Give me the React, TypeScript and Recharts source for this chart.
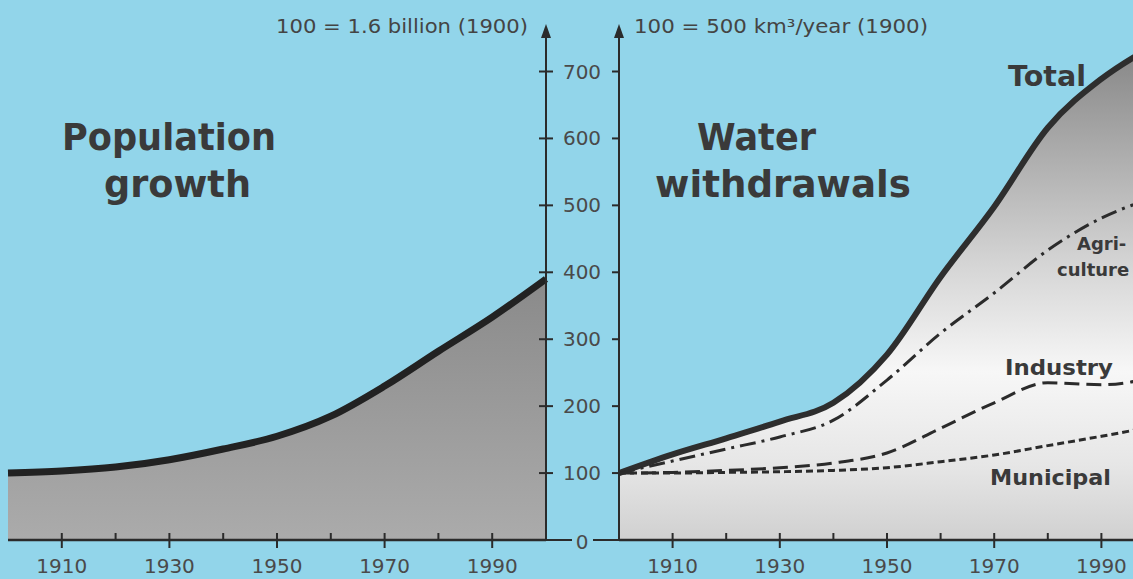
import { Area, ComposedChart, Line, XAxis, YAxis } from "recharts";

const YEARS = [1900, 1910, 1920, 1930, 1940, 1950, 1960, 1970, 1980, 1990, 2000];
const POPULATION = [100, 103, 109, 120, 136, 155, 185, 230, 282, 333, 390];
const TOTAL = [100, 128, 152, 177, 205, 277, 393, 498, 616, 689, 740];
const AGRICULTURE = [100, 118, 136, 154, 179, 239, 309, 369, 433, 481, 512];
const INDUSTRY = [100, 101, 104, 108, 115, 130, 167, 205, 235, 232, 243];
const MUNICIPAL = [100, 100, 101, 102, 104, 108, 117, 127, 141, 155, 170];

const X_TICKS = [1910, 1920, 1930, 1940, 1950, 1960, 1970, 1980, 1990];
const X_LABELS = [1910, 1930, 1950, 1970, 1990];
const Y_TICKS = [0, 100, 200, 300, 400, 500, 600, 700];
const Y_MAX = 765;

const BG = "#92d5ea";
const INK = "#2b2b2b";
const FONT = "'DejaVu Sans', sans-serif";

const popData = YEARS.map((year, i) => ({ year, population: POPULATION[i] }));
const waterData = YEARS.map((year, i) => ({
  year,
  total: TOTAL[i],
  agriculture: AGRICULTURE[i],
  industry: INDUSTRY[i],
  municipal: MUNICIPAL[i],
}));

function YearTick(props: any) {
  const { x, y, payload } = props;
  const labelled = X_LABELS.includes(payload.value);
  return (
    <g>
      <line x1={x} x2={x} y1={y - 7} y2={labelled ? y + 8 : y} stroke={INK} strokeWidth={2} />
      {labelled && (
        <text x={x} y={y + 33} textAnchor="middle" fontSize={20} fill="#4a4a4a" fontFamily={FONT}>
          {payload.value}
        </text>
      )}
    </g>
  );
}

// ticks for the shared middle axis: marks on both axis lines, label in between
function CenterTick(props: any) {
  const { x, y, payload } = props;
  if (payload.value === 0) {
    return (
      <g>
        <line x1={x} x2={x + 26} y1={y} y2={y} stroke={INK} strokeWidth={2} />
        <line x1={x + 47} x2={x + 73} y1={y} y2={y} stroke={INK} strokeWidth={2} />
        <text x={x + 36} y={y + 9} textAnchor="middle" fontSize={20} fill="#4a4a4a" fontFamily={FONT}>
          0
        </text>
      </g>
    );
  }
  return (
    <g>
      <line x1={x - 7} x2={x + 7} y1={y} y2={y} stroke={INK} strokeWidth={2} />
      <line x1={x + 66} x2={x + 80} y1={y} y2={y} stroke={INK} strokeWidth={2} />
      <text x={x + 36} y={y + 7} textAnchor="middle" fontSize={20} fill="#4a4a4a" fontFamily={FONT}>
        {payload.value}
      </text>
    </g>
  );
}

export default function App() {
  return (
    <div
      style={{
        position: "absolute",
        left: 0,
        top: 0,
        width: 1133,
        height: 579,
        background: BG,
        overflow: "hidden",
        fontFamily: FONT,
      }}
    >
      <div style={{ position: "absolute", left: 0, top: 0 }}>
        <ComposedChart width={619} height={579} data={popData} margin={{ top: 28, right: 0, bottom: 0, left: 8 }}>
          <defs>
            <linearGradient id="popFill" x1="0" y1="0" x2="0" y2="1">
              <stop offset="0%" stopColor="#8a8a8a" />
              <stop offset="100%" stopColor="#ababab" />
            </linearGradient>
          </defs>
          <XAxis
            dataKey="year"
            type="number"
            domain={[1900, 2000]}
            ticks={X_TICKS}
            height={39}
            tickSize={0}
            tickMargin={0}
            tickLine={false}
            axisLine={{ stroke: INK, strokeWidth: 2.5 }}
            tick={YearTick}
          />
          <YAxis
            orientation="right"
            type="number"
            domain={[0, Y_MAX]}
            ticks={Y_TICKS}
            width={73}
            tickSize={0}
            tickMargin={0}
            tickLine={false}
            axisLine={{ stroke: INK, strokeWidth: 2 }}
            tick={CenterTick}
          />
          <Area
            dataKey="population"
            type="monotone"
            stroke="#222"
            strokeWidth={7}
            fill="url(#popFill)"
            fillOpacity={1}
            isAnimationActive={false}
          />
        </ComposedChart>
      </div>

      <div style={{ position: "absolute", left: 618, top: 0 }}>
        <ComposedChart width={537} height={579} data={waterData} margin={{ top: 28, right: 0, bottom: 0, left: 0 }}>
          <defs>
            <linearGradient id="waterFill" x1="0" y1="0" x2="0" y2="1">
              <stop offset="0%" stopColor="#858585" />
              <stop offset="20%" stopColor="#a9a9a9" />
              <stop offset="45%" stopColor="#d6d6d6" />
              <stop offset="66%" stopColor="#f7f7f7" />
              <stop offset="85%" stopColor="#e6e6e6" />
              <stop offset="100%" stopColor="#d0d0d0" />
            </linearGradient>
          </defs>
          <XAxis
            dataKey="year"
            type="number"
            domain={[1900, 2000]}
            ticks={X_TICKS}
            height={39}
            tickSize={0}
            tickMargin={0}
            tickLine={false}
            axisLine={{ stroke: INK, strokeWidth: 2.5 }}
            tick={YearTick}
          />
          <YAxis
            orientation="left"
            type="number"
            domain={[0, Y_MAX]}
            ticks={Y_TICKS}
            width={1}
            tick={false}
            tickLine={false}
            axisLine={{ stroke: INK, strokeWidth: 2 }}
          />
          <Area
            dataKey="total"
            type="monotone"
            stroke="#2e2e2e"
            strokeWidth={6}
            fill="url(#waterFill)"
            fillOpacity={1}
            isAnimationActive={false}
          />
          <Line dataKey="agriculture" type="monotone" stroke={INK} strokeWidth={3} strokeDasharray="16 6 3 6" dot={false} isAnimationActive={false} />
          <Line dataKey="industry" type="monotone" stroke={INK} strokeWidth={3} strokeDasharray="15 7" dot={false} isAnimationActive={false} />
          <Line dataKey="municipal" type="monotone" stroke={INK} strokeWidth={3} strokeDasharray="7 4" dot={false} isAnimationActive={false} />
        </ComposedChart>
      </div>

      <svg width={1133} height={579} style={{ position: "absolute", left: 0, top: 0, pointerEvents: "none" }}>
        <polygon points="546,24 541,38 551,38" fill={INK} />
        <polygon points="619,24 614,38 624,38" fill={INK} />
        <g fontFamily={FONT} fill="#444">
          <text x={528} y={33} fontSize={19} textAnchor="end" textLength={252} lengthAdjust="spacingAndGlyphs">100 = 1.6 billion (1900)</text>
          <text x={634} y={33} fontSize={19} textLength={294} lengthAdjust="spacingAndGlyphs">100 = 500 km³/year (1900)</text>
        </g>
        <g fontFamily={FONT} fill="#3a3a3a" fontWeight="bold">
          <text x={62} y={150} fontSize={38} textLength={214} lengthAdjust="spacingAndGlyphs">Population</text>
          <text x={104} y={197} fontSize={38} textLength={147} lengthAdjust="spacingAndGlyphs">growth</text>
          <text x={697} y={150} fontSize={38} textLength={119} lengthAdjust="spacingAndGlyphs">Water</text>
          <text x={655} y={197} fontSize={38} textLength={256} lengthAdjust="spacingAndGlyphs">withdrawals</text>
          <text x={1008} y={86} fontSize={28} textLength={78} lengthAdjust="spacingAndGlyphs">Total</text>
          <text x={1077} y={250} fontSize={18}>Agri-</text>
          <text x={1057} y={276} fontSize={18}>culture</text>
          <text x={1005} y={375} fontSize={21} textLength={108} lengthAdjust="spacingAndGlyphs">Industry</text>
          <text x={990} y={485} fontSize={22} textLength={121} lengthAdjust="spacingAndGlyphs">Municipal</text>
        </g>
      </svg>
    </div>
  );
}
